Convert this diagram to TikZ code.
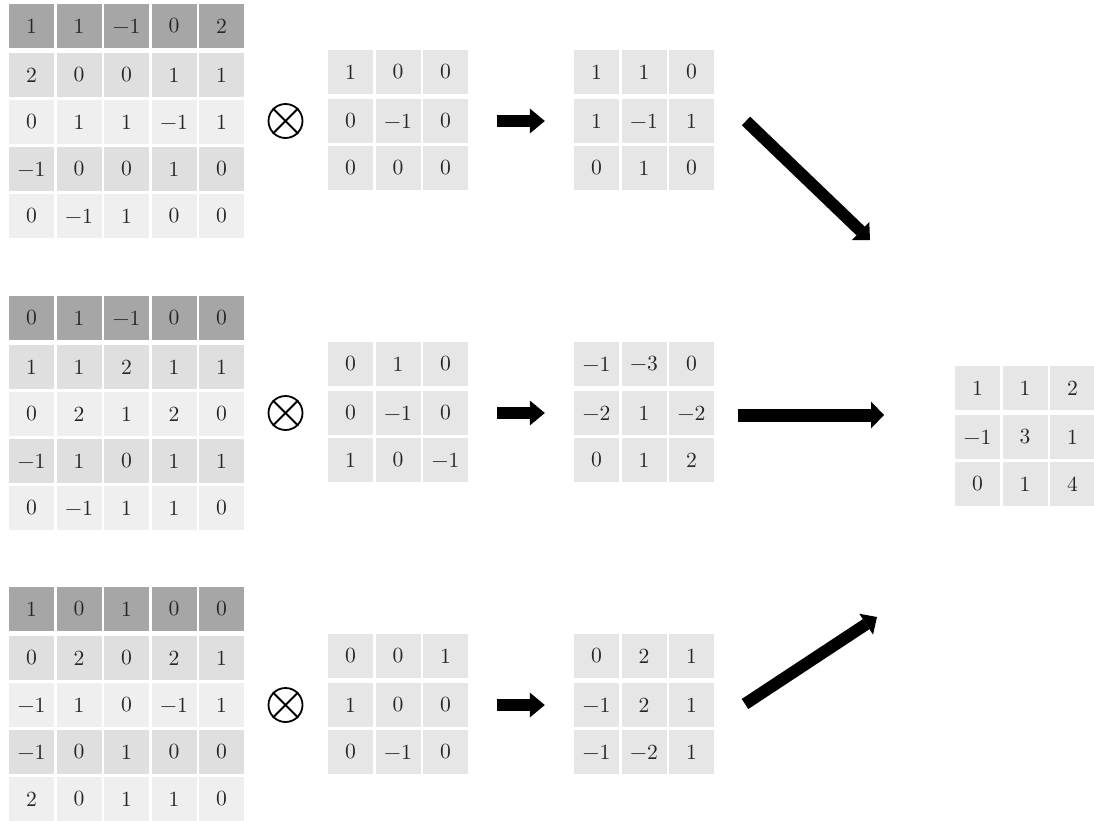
\documentclass[tikz,border=0pt]{standalone}
\usetikzlibrary{arrows.meta}
\definecolor{bigh}{HTML}{A6A6A6}
\definecolor{bige}{HTML}{DFDFDF}
\definecolor{bigo}{HTML}{EFEFEF}
\definecolor{smlh}{HTML}{E6E6E6}
\definecolor{smle}{HTML}{E6E6E6}
\definecolor{smlo}{HTML}{E6E6E6}
\definecolor{txt}{HTML}{262626}
\newcommand\mkmat[5]{%
  \foreach \rw [count=\i] in {#5} {
    \foreach \v [count=\j] in \rw {
      \pgfmathsetmacro\cx{#2+(\j-1)*47.5+22.5}
      \pgfmathsetmacro\cy{#3+22+(\i>1)*(49+(\i-2)*47)}
      \ifnum\i=1 \def\fc{#4h}\else\ifodd\i\def\fc{#4o}\else\def\fc{#4e}\fi\fi
      \node[cell,fill=\fc] (#1-\i-\j) at (\cx,\cy) {\scalebox{2}{\v}};
    }
  }
}
\tikzset{
  cell/.style={minimum width=45pt,minimum height=44pt,inner sep=0pt,
    font=\fontsize{10.8}{13}\selectfont,text=txt},
  otimesnode/.style={circle,draw=black,line width=1.8pt,minimum size=34pt,inner sep=0pt},
  sarrow/.style={line width=12pt,-{Triangle[length=15pt,width=25pt,line width=0pt]}},
  barrow/.style={line width=13pt,-{Triangle[length=13pt,width=27pt,line width=0pt]}},
  darrow/.style={line width=12pt,-{Triangle[length=13pt,width=25pt,line width=0pt]}},
}
\begin{document}
\begin{tikzpicture}[x=1pt,y=-1pt]
\useasboundingbox[fill=white] (0,0) rectangle (1094,821);
% group 1
\mkmat{A1}{9}{4}{big}{{1,1,−1,0,2},{2,0,0,1,1},{0,1,1,−1,1},{−1,0,0,1,0},{0,−1,1,0,0}}
\mkmat{K1}{328}{50}{sml}{{1,0,0},{0,−1,0},{0,0,0}}
\mkmat{R1}{574}{50}{sml}{{1,1,0},{1,−1,1},{0,1,0}}
% group 2
\mkmat{A2}{9}{296}{big}{{0,1,−1,0,0},{1,1,2,1,1},{0,2,1,2,0},{−1,1,0,1,1},{0,−1,1,1,0}}
\mkmat{K2}{328}{342}{sml}{{0,1,0},{0,−1,0},{1,0,−1}}
\mkmat{R2}{574}{342}{sml}{{−1,−3,0},{−2,1,−2},{0,1,2}}
% group 3
\mkmat{A3}{9}{587}{big}{{1,0,1,0,0},{0,2,0,2,1},{−1,1,0,−1,1},{−1,0,1,0,0},{2,0,1,1,0}}
\mkmat{K3}{328}{634}{sml}{{0,0,1},{1,0,0},{0,−1,0}}
\mkmat{R3}{574}{634}{sml}{{0,2,1},{−1,2,1},{−1,−2,1}}
% final
\mkmat{F}{955}{366}{sml}{{1,1,2},{−1,3,1},{0,1,4}}
% otimes
\foreach \k/\yy in {1/121,2/413,3/705}{
  \node[otimesnode] (ot\k) at (285.5,\yy) {};
  \draw[line width=1.8pt] (ot\k.north west) -- (ot\k.south east);
  \draw[line width=1.8pt] (ot\k.north east) -- (ot\k.south west);
}
% small arrows
\foreach \k in {1,2,3}{
  \draw[sarrow,shorten <=29pt,shorten >=29pt] (K\k-2-3.east) -- (R\k-2-1.west);
}
% big arrows
\coordinate (d1s) at (746,121);
\coordinate (d1e) at (870,240);
\coordinate (hs) at (738,415);
\coordinate (he) at (884,415);
\coordinate (d3s) at (745,704);
\coordinate (d3e) at (877,617);
\draw[darrow] (d1s) -- (d1e);
\draw[barrow] (hs) -- (he);
\draw[darrow] (d3s) -- (d3e);
\end{tikzpicture}
\end{document}
